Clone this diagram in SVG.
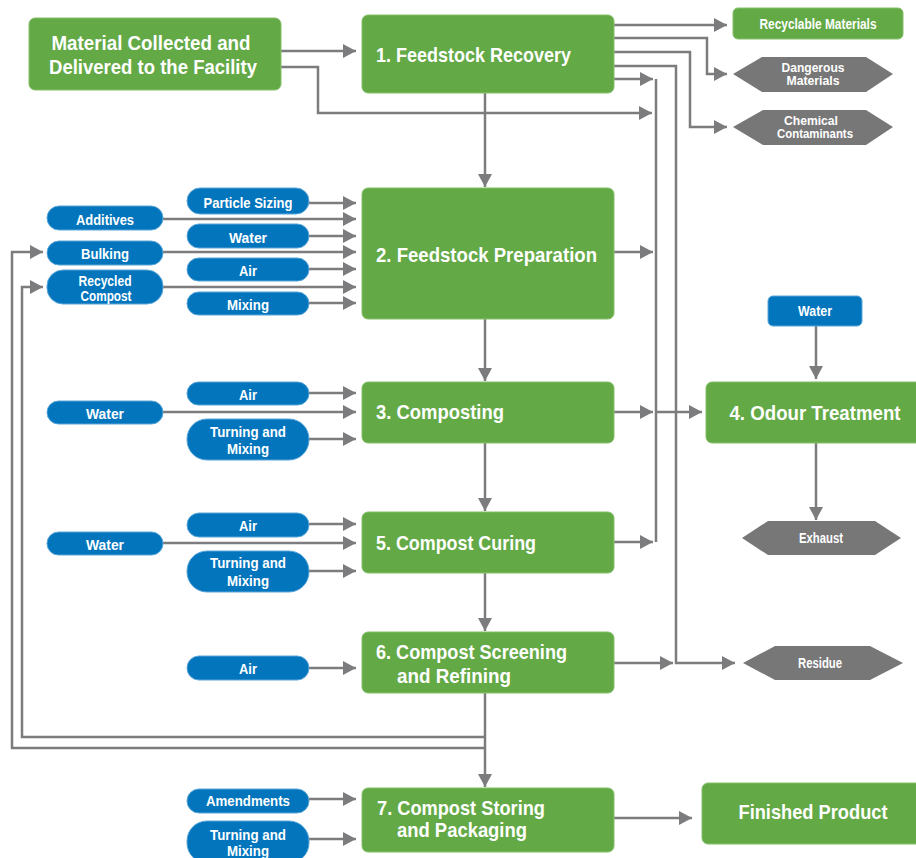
<svg xmlns="http://www.w3.org/2000/svg" width="916" height="858" viewBox="0 0 916 858">
<defs>
<marker id="ah" viewBox="0 0 13 14" refX="13" refY="7" markerWidth="13" markerHeight="14" markerUnits="userSpaceOnUse" orient="auto">
<path d="M0,0 L13,7 L0,14 z" fill="#7c7c7e"/>
</marker>
<style>
.g{fill:#63a946;stroke:#86c06a;stroke-width:1}
.b{fill:#0275bd;stroke:#5aa6d8;stroke-width:1}
.h{fill:#777778}
.c{fill:none;stroke:#7c7c7e;stroke-width:2.5}
.a{marker-end:url(#ah)}
text{font-family:"Liberation Sans Narrow","Liberation Sans",Arial,sans-serif;font-weight:bold;fill:#fff}
.t1{font-size:21px}
.t2{font-size:15.5px;text-anchor:middle}
.t2s{font-size:14px;text-anchor:middle}
.t3{font-size:14px;text-anchor:middle}
.t3s{font-size:12.5px;text-anchor:middle}
.m{text-anchor:middle}
</style>
</defs>
<rect width="916" height="858" fill="#fff"/>

<g id="connectors">
<path class="c a" d="M281,51 H356"/>
<path class="c a" d="M281,67 H318 V113 H652"/>
<path class="c a" d="M614,25 H727"/>
<path class="c a" d="M614,38 H707 V74 H727"/>
<path class="c a" d="M614,52 H690 V127 H727"/>
<path class="c a" d="M614,66 H676 V663 H735"/>
<path class="c a" d="M614,79 H653"/>
<path class="c" d="M656,79 V542"/>
<path class="c a" d="M614,252 H653"/>
<path class="c a" d="M614,412 H653"/>
<path class="c a" d="M656,412 H702"/>
<path class="c a" d="M614,542 H653"/>
<path class="c a" d="M614,663 H673"/>
<path class="c a" d="M485,93 V187"/>
<path class="c a" d="M485,319 V381"/>
<path class="c a" d="M485,443 V511"/>
<path class="c a" d="M485,573 V631"/>
<path class="c a" d="M485,693 V787"/>
<path class="c a" d="M485,748 H12 V252 H43"/>
<path class="c a" d="M485,737 H22 V287 H43"/>
<path class="c a" d="M309,203 H356"/>
<path class="c a" d="M163,219 H356"/>
<path class="c a" d="M309,236 H356"/>
<path class="c a" d="M163,252 H356"/>
<path class="c a" d="M309,269 H356"/>
<path class="c a" d="M163,287 H356"/>
<path class="c a" d="M309,303 H356"/>
<path class="c a" d="M309,393 H356"/>
<path class="c a" d="M163,412 H356"/>
<path class="c a" d="M309,439 H356"/>
<path class="c a" d="M309,524 H356"/>
<path class="c a" d="M163,543 H356"/>
<path class="c a" d="M309,571 H356"/>
<path class="c a" d="M309,668 H356"/>
<path class="c a" d="M309,799 H356"/>
<path class="c a" d="M309,839 H356"/>
<path class="c a" d="M614,818 H692"/>
<path class="c a" d="M816,326 V379"/>
<path class="c a" d="M816,443 V520"/>
</g>

<g id="material">
<rect class="g" x="29" y="18" width="252" height="72" rx="6"/>
<text class="t1 m" x="151" y="50" textLength="199" lengthAdjust="spacingAndGlyphs">Material Collected and</text>
<text class="t1 m" x="153" y="74" textLength="208" lengthAdjust="spacingAndGlyphs">Delivered to the Facility</text>
</g>
<g id="n1">
<rect class="g" x="362" y="15" width="252" height="78" rx="6"/>
<text class="t1" x="376" y="62" textLength="195" lengthAdjust="spacingAndGlyphs">1. Feedstock Recovery</text>
</g>
<g id="recyclable">
<rect class="g" x="733" y="8" width="170" height="31" rx="5"/>
<text class="t3" x="818" y="29" textLength="117" lengthAdjust="spacingAndGlyphs">Recyclable Materials</text>
</g>
<g id="dangerous">
<polygon class="h" points="733,74 762,57 866,57 893,74 866,92 762,92"/>
<text class="t3s" x="813" y="72" textLength="63" lengthAdjust="spacingAndGlyphs">Dangerous</text>
<text class="t3s" x="813" y="85" textLength="53" lengthAdjust="spacingAndGlyphs">Materials</text>
</g>
<g id="chemical">
<polygon class="h" points="733,127 763,110 866,110 893,127 866,145 763,145"/>
<text class="t3s" x="811" y="125" textLength="54" lengthAdjust="spacingAndGlyphs">Chemical</text>
<text class="t3s" x="815" y="138" textLength="76" lengthAdjust="spacingAndGlyphs">Contaminants</text>
</g>

<g id="n2">
<rect class="g" x="362" y="188" width="252" height="131" rx="6"/>
<text class="t1" x="376" y="262" textLength="221" lengthAdjust="spacingAndGlyphs">2. Feedstock Preparation</text>
</g>
<g id="particle"><rect class="b" x="187" y="188" width="122" height="26" rx="13"/><text class="t2" x="248" y="208" textLength="89" lengthAdjust="spacingAndGlyphs">Particle Sizing</text></g>
<g id="additives"><rect class="b" x="47" y="206" width="116" height="24" rx="12"/><text class="t2" x="105" y="225" textLength="58" lengthAdjust="spacingAndGlyphs">Additives</text></g>
<g id="water2"><rect class="b" x="187" y="224" width="122" height="24" rx="12"/><text class="t2" x="248" y="243" textLength="38" lengthAdjust="spacingAndGlyphs">Water</text></g>
<g id="bulking"><rect class="b" x="47" y="241" width="116" height="24" rx="12"/><text class="t2" x="105" y="259" textLength="48" lengthAdjust="spacingAndGlyphs">Bulking</text></g>
<g id="air2"><rect class="b" x="187" y="258" width="122" height="23" rx="11.5"/><text class="t2" x="248" y="276" textLength="18" lengthAdjust="spacingAndGlyphs">Air</text></g>
<g id="recycled"><rect class="b" x="47" y="270" width="116" height="34" rx="16"/><text class="t2s" x="105" y="286" textLength="53" lengthAdjust="spacingAndGlyphs">Recycled</text><text class="t2s" x="106" y="301" textLength="51" lengthAdjust="spacingAndGlyphs">Compost</text></g>
<g id="mixing2"><rect class="b" x="187" y="292" width="122" height="23" rx="11.5"/><text class="t2" x="248" y="310" textLength="42" lengthAdjust="spacingAndGlyphs">Mixing</text></g>

<g id="n3">
<rect class="g" x="362" y="382" width="252" height="61" rx="6"/>
<text class="t1" x="376" y="419" textLength="128" lengthAdjust="spacingAndGlyphs">3. Composting</text>
</g>
<g id="air3"><rect class="b" x="187" y="382" width="122" height="23" rx="11.5"/><text class="t2" x="248" y="400" textLength="18" lengthAdjust="spacingAndGlyphs">Air</text></g>
<g id="water3"><rect class="b" x="47" y="401" width="116" height="23" rx="11.5"/><text class="t2" x="105" y="419" textLength="38" lengthAdjust="spacingAndGlyphs">Water</text></g>
<g id="turn3"><rect class="b" x="187" y="419" width="122" height="41" rx="20"/><text class="t2" x="248" y="437" textLength="76" lengthAdjust="spacingAndGlyphs">Turning and</text><text class="t2" x="248" y="454" textLength="42" lengthAdjust="spacingAndGlyphs">Mixing</text></g>

<g id="n4">
<rect class="g" x="706" y="382" width="220" height="61" rx="6"/>
<text class="t1 m" x="815" y="420" textLength="171" lengthAdjust="spacingAndGlyphs">4. Odour Treatment</text>
</g>
<g id="water4"><rect class="b" x="768" y="296" width="94" height="30" rx="5"/><text class="t3" x="815" y="316" textLength="34" lengthAdjust="spacingAndGlyphs">Water</text></g>
<g id="exhaust">
<polygon class="h" points="742,538 768,521 875,521 901,538 875,555 768,555"/>
<text class="t3" x="821" y="543" textLength="44" lengthAdjust="spacingAndGlyphs">Exhaust</text>
</g>

<g id="n5">
<rect class="g" x="362" y="512" width="252" height="61" rx="6"/>
<text class="t1" x="376" y="550" textLength="160" lengthAdjust="spacingAndGlyphs">5. Compost Curing</text>
</g>
<g id="air5"><rect class="b" x="187" y="513" width="122" height="24" rx="12"/><text class="t2" x="248" y="531" textLength="18" lengthAdjust="spacingAndGlyphs">Air</text></g>
<g id="water5"><rect class="b" x="47" y="532" width="116" height="23" rx="11.5"/><text class="t2" x="105" y="550" textLength="38" lengthAdjust="spacingAndGlyphs">Water</text></g>
<g id="turn5"><rect class="b" x="187" y="551" width="122" height="41" rx="20"/><text class="t2" x="248" y="568" textLength="76" lengthAdjust="spacingAndGlyphs">Turning and</text><text class="t2" x="248" y="586" textLength="42" lengthAdjust="spacingAndGlyphs">Mixing</text></g>

<g id="n6">
<rect class="g" x="362" y="632" width="252" height="61" rx="6"/>
<text class="t1" x="376" y="659" textLength="191" lengthAdjust="spacingAndGlyphs">6. Compost Screening</text>
<text class="t1" x="397" y="683" textLength="114" lengthAdjust="spacingAndGlyphs">and Refining</text>
</g>
<g id="air6"><rect class="b" x="187" y="656" width="122" height="24" rx="12"/><text class="t2" x="248" y="674" textLength="18" lengthAdjust="spacingAndGlyphs">Air</text></g>
<g id="residue">
<polygon class="h" points="743,663 775,646 870,646 903,663 870,680 775,680"/>
<text class="t3" x="820" y="668" textLength="44" lengthAdjust="spacingAndGlyphs">Residue</text>
</g>

<g id="n7">
<rect class="g" x="362" y="788" width="252" height="64" rx="6"/>
<text class="t1" x="377" y="815" textLength="168" lengthAdjust="spacingAndGlyphs">7. Compost Storing</text>
<text class="t1" x="397" y="837" textLength="130" lengthAdjust="spacingAndGlyphs">and Packaging</text>
</g>
<g id="amend"><rect class="b" x="187" y="789" width="122" height="24" rx="12"/><text class="t2" x="248" y="806" textLength="84" lengthAdjust="spacingAndGlyphs">Amendments</text></g>
<g id="turn7"><rect class="b" x="187" y="821" width="122" height="42" rx="20"/><text class="t2" x="248" y="840" textLength="76" lengthAdjust="spacingAndGlyphs">Turning and</text><text class="t2" x="248" y="856" textLength="42" lengthAdjust="spacingAndGlyphs">Mixing</text></g>
<g id="finished">
<rect class="g" x="702" y="783" width="224" height="61" rx="6"/>
<text class="t1 m" x="813" y="819" textLength="149" lengthAdjust="spacingAndGlyphs">Finished Product</text>
</g>
</svg>
